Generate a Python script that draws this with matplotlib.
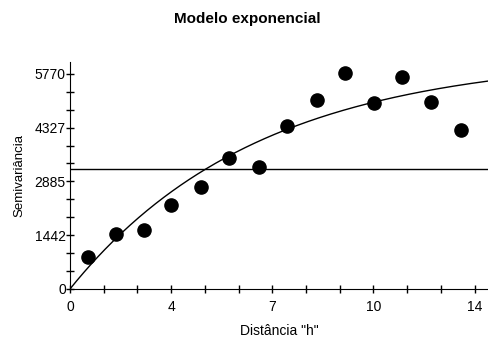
import numpy as np
import matplotlib
matplotlib.use("Agg")
import matplotlib.pyplot as plt
from matplotlib.ticker import FixedLocator

plt.rcParams['font.family'] = ['Liberation Sans', 'DejaVu Sans']

# Data
lag = [0.63, 1.59, 2.56, 3.51, 4.53, 5.50, 6.53, 7.50, 8.54, 9.51, 10.51, 11.48, 12.48, 13.53]
semivar = [861, 1464, 1588, 2244, 2737, 3525, 3266, 4378, 5070, 5796, 4979, 5697, 5006, 4252]
sill_line = 3213
model_sill = 6250
model_range = 6.5
x_ticks = [0, 3.5, 7, 10.5, 14]
x_labels = ["0", "4", "7", "10", "14"]
y_ticks = [0, 1442.5, 2885, 4327.5, 5770]
y_labels = ["0", "1442", "2885", "4327", "5770"]

fig = plt.figure(figsize=(4.89, 3.38), dpi=100)
ax = fig.add_axes([0.1431, 0.145, 0.857, 0.672])

h = np.linspace(0, 14.5, 300)
ax.plot(h, model_sill * (1 - np.exp(-h / model_range)), color='black', lw=1.0)
ax.axhline(sill_line, color='black', lw=1.0)
ax.scatter(lag, semivar, s=90, color='black', zorder=3)

ax.set_xlim(0, 14.5)
ax.set_ylim(0, 6090)
for s in ['top', 'right']:
    ax.spines[s].set_visible(False)

xstep = (x_ticks[1] - x_ticks[0]) / 3
ystep = (y_ticks[1] - y_ticks[0]) / 3
x_minor = [i * xstep for i in range(13) if i % 3 != 0]
y_minor = [i * ystep for i in range(13) if i % 3 != 0]

ax.xaxis.set_major_locator(FixedLocator(x_ticks))
ax.set_xticklabels(x_labels)
ax.xaxis.set_minor_locator(FixedLocator(x_minor))
ax.yaxis.set_major_locator(FixedLocator(y_ticks))
ax.set_yticklabels(y_labels)
ax.yaxis.set_minor_locator(FixedLocator(y_minor))
ax.tick_params(which='both', direction='inout', length=6, width=1.0, labelsize=10)
ax.tick_params(axis='y', which='both', pad=0)
ax.tick_params(axis='x', which='both', pad=5)

ax.set_xlabel('Distância "h"', fontsize=10, labelpad=7)
ax.set_ylabel('Semivariância', fontsize=9.5, labelpad=7)
fig.suptitle('Modelo exponencial', fontsize=11, fontweight='bold', x=0.505, y=0.965)

fig.savefig('out.png', dpi=100)
